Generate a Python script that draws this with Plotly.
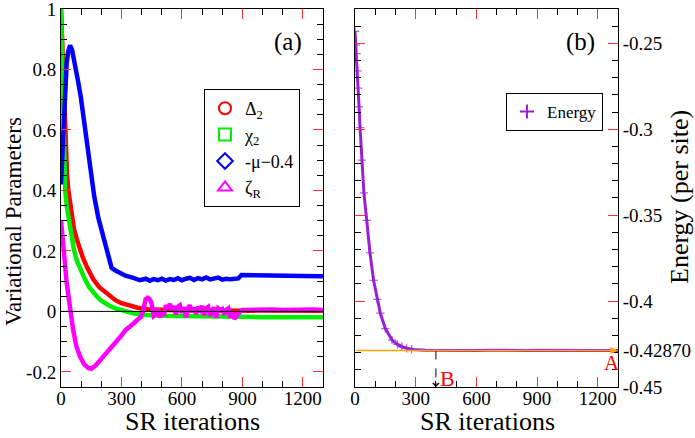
import plotly.graph_objects as go

FONT = "Liberation Serif, Times New Roman, Times, serif"

# ---------------- Panel (a) data ----------------
delta2_it = [0, 5, 10, 15, 20, 25, 30, 36, 45, 53, 65, 80, 94, 110, 130, 160, 190, 215, 243, 270,
             300, 342, 380, 430, 500, 600, 700, 800, 900, 1000, 1100, 1200, 1300]
delta2_val = [1.0, 0.9, 0.8, 0.7, 0.6, 0.52, 0.45, 0.403, 0.355, 0.315, 0.27, 0.235, 0.205, 0.175,
              0.145, 0.106, 0.08, 0.065, 0.05, 0.037, 0.027, 0.018, 0.012, 0.007, 0.004, 0.003,
              0.003, 0.003, 0.002, 0.002, 0.002, 0.002, 0.002]

chi2_it = [0, 4, 8, 12, 16, 21, 28, 36, 50, 64, 80, 100, 119, 140, 160, 177, 200, 220, 243, 270,
           300, 326, 360, 400, 450, 500, 600, 700, 800, 900, 1000, 1100, 1200, 1300]
chi2_val = [1.0, 0.85, 0.7, 0.57, 0.48, 0.40, 0.35, 0.315, 0.255, 0.205, 0.165, 0.13, 0.106, 0.08,
            0.062, 0.05, 0.035, 0.026, 0.018, 0.01, 0.004, 0.0, -0.006, -0.011, -0.013, -0.014,
            -0.015, -0.015, -0.016, -0.018, -0.019, -0.019, -0.019, -0.019]

mu_it = [0, 5, 11, 18, 28, 36, 45, 55, 70, 85, 98, 119, 141, 165, 185, 202, 220, 235, 251, 270,
         293, 320, 359, 392, 420, 441, 460, 480, 500, 520, 540, 560, 580, 600, 620, 640, 660, 680,
         700, 720, 740, 760, 780, 800, 820, 840, 860, 880, 895, 920, 1000, 1100, 1200, 1300]
mu_val = [0.42, 0.5, 0.6, 0.7, 0.82, 0.86, 0.88, 0.865, 0.82, 0.76, 0.71, 0.60, 0.49, 0.38, 0.31,
          0.27, 0.22, 0.183, 0.144, 0.135, 0.128, 0.118, 0.111, 0.103, 0.108, 0.101, 0.107, 0.103,
          0.108, 0.102, 0.107, 0.104, 0.11, 0.103, 0.108, 0.111, 0.104, 0.11, 0.106, 0.112, 0.106,
          0.109, 0.112, 0.105, 0.108, 0.106, 0.107, 0.109, 0.12, 0.12, 0.119, 0.118, 0.117, 0.116]

zeta_it = [0, 5, 11, 18, 28, 38, 48, 60, 76, 95, 115, 135, 150, 170, 190, 210, 230, 258, 280, 300,
           320, 341, 360, 382, 395, 407, 412, 420, 430, 440, 450, 455, 460, 470, 480, 490, 500,
           510, 520, 530, 540, 550, 560, 570, 580, 590, 600, 610, 620, 630, 640, 650, 660, 670,
           680, 690, 700, 710, 720, 730, 740, 750, 760, 770, 780, 790, 800, 810, 820, 830, 840,
           850, 860, 870, 880, 890, 900, 950, 1000, 1050, 1100, 1150, 1200, 1250, 1300]
zeta_val = [0.30, 0.27, 0.21, 0.17, 0.095, 0.04, 0.0, -0.06, -0.115, -0.15, -0.175, -0.187, -0.19,
            -0.18, -0.165, -0.15, -0.135, -0.115, -0.095, -0.08, -0.062, -0.048, -0.04, -0.026,
            -0.02, 0.0, 0.02, 0.04, 0.045, 0.04, 0.025, 0.005, -0.015, -0.01, 0.01, -0.02, 0.0,
            -0.015, 0.02, 0.01, 0.025, 0.005, 0.018, -0.01, 0.015, 0.02, -0.005, 0.015, -0.02,
            0.01, 0.02, 0.0, 0.012, -0.008, 0.015, 0.005, 0.018, -0.012, 0.01, 0.015, -0.015,
            0.005, 0.012, -0.02, 0.01, 0.005, 0.008, -0.01, 0.005, 0.01, -0.02, 0.0, -0.025,
            -0.015, -0.005, 0.0, 0.005, 0.006, 0.004, 0.006, 0.005, 0.006, 0.004, 0.006, 0.005]

# ---------------- Panel (b) data ----------------
energy_it = [0, 4, 8, 12, 16, 20, 25, 33, 44, 58, 74, 92, 110, 125, 150, 183, 210, 232, 255, 280,
             300, 350, 400, 450, 500, 550, 600, 650, 700, 750, 800, 850, 900, 950, 1000, 1050,
             1100, 1150, 1200, 1250, 1300]
energy_val = [-0.243, -0.251, -0.256, -0.266, -0.276, -0.287, -0.299, -0.318, -0.337, -0.353,
              -0.372, -0.388, -0.399, -0.407, -0.416, -0.4227, -0.4252, -0.4266, -0.4275,
              -0.428, -0.4284, -0.4286, -0.4287, -0.4288, -0.4286, -0.4287, -0.4288, -0.4286,
              -0.4287, -0.4286, -0.4288, -0.4287, -0.4286, -0.4287, -0.4288, -0.4287, -0.4286,
              -0.4287, -0.4288, -0.4287, -0.4287]

E_REF = -0.4287
B_ITER = 400

x_ticks = [0, 300, 600, 900, 1200]
x_ticktext = ["0", "300", "600", "900", "1200"]
ya_ticks = [-0.2, 0, 0.2, 0.4, 0.6, 0.8, 1.0]
ya_ticktext = ["-0.2", "0", "0.2", "0.4", "0.6", "0.8", "1"]
yb_ticks = [-0.45, -0.4, -0.35, -0.3, -0.25]
yb_ticktext = ["-0.45", "-0.4", "-0.35", "-0.3", "-0.25"]

series_a = [
    ("Δ<sub>2</sub>", delta2_it, delta2_val, "#ff0000", "circle-open"),
    ("χ<sub>2</sub>", chi2_it, chi2_val, "#00ee00", "square-open"),
    ("-μ−0.4", mu_it, mu_val, "#0000ff", "diamond-open"),
    ("ζ<sub>R</sub>", zeta_it, zeta_val, "#ff00ff", "triangle-up-open"),
]

fig = go.Figure()
for name, xs, ys, col, sym in series_a:
    fig.add_trace(go.Scatter(x=xs, y=ys, mode="lines", line=dict(color=col, width=4.5),
                             showlegend=False, xaxis="x", yaxis="y"))
for name, xs, ys, col, sym in series_a:
    fig.add_trace(go.Scatter(x=[None], y=[None], mode="markers", name=name,
                             marker=dict(symbol=sym, size=9, color=col, line=dict(width=1.3, color=col)),
                             xaxis="x", yaxis="y", legend="legend"))

PURPLE = "#9a1fd6"
e_sizes = [6 if it < 300 else 0 for it in energy_it]
fig.add_trace(go.Scatter(x=energy_it, y=energy_val, mode="lines+markers",
                         line=dict(color=PURPLE, width=3),
                         marker=dict(symbol="cross-thin", size=e_sizes, color=PURPLE,
                                     line=dict(width=1.3, color=PURPLE)),
                         showlegend=False, xaxis="x2", yaxis="y2"))
fig.add_trace(go.Scatter(x=[None], y=[None], mode="markers", name="Energy",
                         marker=dict(symbol="cross-thin", size=10, color=PURPLE,
                                     line=dict(width=2, color=PURPLE)),
                         xaxis="x2", yaxis="y2", legend="legend2"))

tickfont = dict(family=FONT, size=19, color="black")
common = dict(showline=True, linecolor="black", linewidth=1, mirror="allticks",
              ticks="inside", ticklen=10, tickcolor="#ff3030", tickwidth=1,
              showgrid=False, zeroline=False, tickfont=tickfont, automargin=False,
              ticklabeloverflow="allow")

fig.update_layout(
    width=695, height=438,
    margin=dict(l=61, r=77, t=9, b=51),
    paper_bgcolor="white", plot_bgcolor="white",
    font=dict(family=FONT, color="black"),
    xaxis=dict(domain=[0, 262 / 557], range=[0, 1300], tickmode="array",
               tickvals=x_ticks, ticktext=x_ticktext, ticklabelstandoff=-6,
               minor=dict(ticks="inside", ticklen=6, tickcolor="black", tickmode="linear",
                          tick0=0, dtick=100),
               anchor="y", **common),
    yaxis=dict(domain=[0, 1], range=[-0.25, 1.00001], tickmode="array",
               tickvals=ya_ticks, ticktext=ya_ticktext,
               minor=dict(ticks="inside", ticklen=6, tickcolor="black", tickmode="linear",
                          tick0=0, dtick=0.05),
               anchor="x", **common),
    xaxis2=dict(domain=[294 / 557, 1], range=[0, 1300], tickmode="array",
                tickvals=x_ticks, ticktext=x_ticktext, ticklabelstandoff=-6,
                minor=dict(ticks="inside", ticklen=6, tickcolor="black", tickmode="linear",
                           tick0=0, dtick=100),
                anchor="y2", **common),
    yaxis2=dict(domain=[0, 1], range=[-0.45001, -0.23], side="right", tickmode="array",
                tickvals=yb_ticks, ticktext=yb_ticktext,
                minor=dict(ticks="inside", ticklen=6, tickcolor="black", tickmode="linear",
                           tick0=-0.45, dtick=0.01),
                anchor="x2", **common),
    legend=dict(x=(204 - 61) / 557, y=(387 - 89) / 378, xanchor="left", yanchor="top",
                bordercolor="black", borderwidth=1, bgcolor="white",
                font=dict(family=FONT, size=18, color="black"), tracegroupgap=0,
                itemsizing="constant"),
    legend2=dict(x=(506 - 61) / 557, y=(387 - 93) / 378, xanchor="left", yanchor="top",
                 bordercolor="black", borderwidth=1, bgcolor="white",
                 font=dict(family=FONT, size=17, color="black")),
)

fig.add_shape(type="line", xref="x", yref="y", x0=0, x1=1300, y0=0, y1=0,
              line=dict(color="black", width=1), layer="above")
fig.add_shape(type="line", xref="x2", yref="y2", x0=B_ITER, x1=B_ITER, y0=E_REF, y1=-0.4485,
              line=dict(color="black", width=1, dash="dash"), layer="above")

ann = []
ann.append(dict(x=1300, y=E_REF, ax=0, ay=E_REF, xref="x2", yref="y2", axref="x2", ayref="y2",
                text="", showarrow=True, arrowhead=2, arrowsize=1, arrowwidth=1.5,
                arrowcolor="#ffa500", standoff=0, startstandoff=0))
ann.append(dict(x=B_ITER, y=-0.45, ax=B_ITER, ay=-0.4465, xref="x2", yref="y2", axref="x2",
                ayref="y2", text="", showarrow=True, arrowhead=4, arrowsize=1.2, arrowwidth=1,
                arrowcolor="black", standoff=0))
ann.append(dict(x=1.0, y=E_REF, xref="x2 domain", yref="y2", text="-0.42870", showarrow=False,
                xanchor="left", yanchor="middle", xshift=3,
                font=dict(family=FONT, size=19, color="black")))
ann.append(dict(x=1270, y=-0.436, xref="x2", yref="y2", text="A", showarrow=False,
                xanchor="center", yanchor="middle",
                font=dict(family=FONT, size=21, color="#ff0000")))
ann.append(dict(x=455, y=-0.4453, xref="x2", yref="y2", text="B", showarrow=False,
                xanchor="center", yanchor="middle",
                font=dict(family=FONT, size=22, color="#ff0000")))
ann.append(dict(x=(288 - 61) / 557, y=(387 - 42) / 378, xref="paper", yref="paper", text="(a)",
                showarrow=False, xanchor="center", yanchor="middle",
                font=dict(family=FONT, size=25, color="black")))
ann.append(dict(x=(580 - 61) / 557, y=(387 - 42) / 378, xref="paper", yref="paper", text="(b)",
                showarrow=False, xanchor="center", yanchor="middle",
                font=dict(family=FONT, size=25, color="black")))
ann.append(dict(x=(192 - 61) / 557, y=(387 - 421) / 378, xref="paper", yref="paper",
                text="SR iterations", showarrow=False, xanchor="center", yanchor="middle",
                font=dict(family=FONT, size=26, color="black")))
ann.append(dict(x=(487 - 61) / 557, y=(387 - 421) / 378, xref="paper", yref="paper",
                text="SR iterations", showarrow=False, xanchor="center", yanchor="middle",
                font=dict(family=FONT, size=26, color="black")))
ann.append(dict(x=(13 - 61) / 557, y=(387 - 222) / 378, xref="paper", yref="paper",
                text="Variational Parameters", showarrow=False, textangle=-90,
                xanchor="center", yanchor="middle",
                font=dict(family=FONT, size=23, color="black")))
ann.append(dict(x=(679 - 61) / 557, y=(387 - 197) / 378, xref="paper", yref="paper",
                text="Energy (per site)", showarrow=False, textangle=-90,
                xanchor="center", yanchor="middle",
                font=dict(family=FONT, size=26, color="black")))
fig.update_layout(annotations=ann)

fig.write_html("out.html")
